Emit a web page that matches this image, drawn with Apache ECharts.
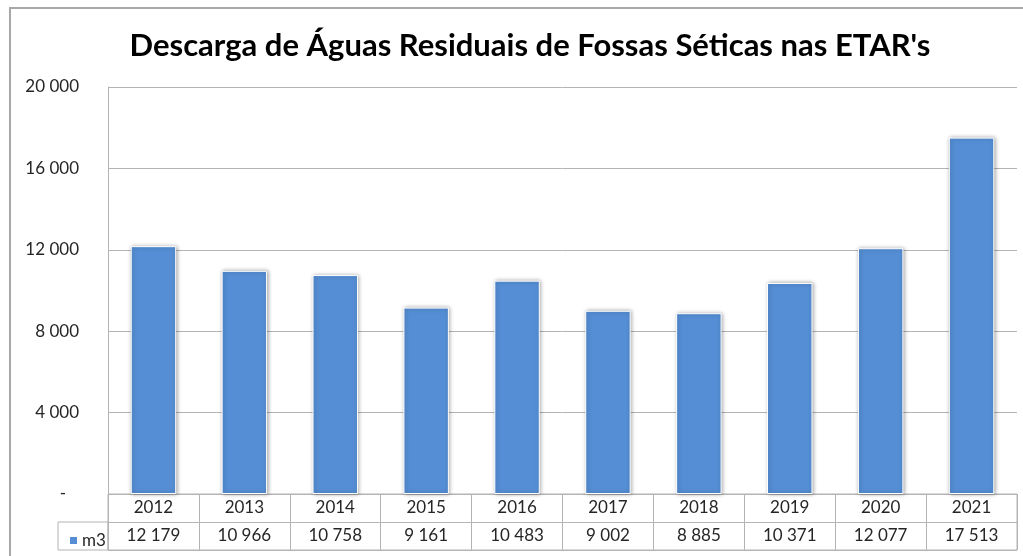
<!DOCTYPE html>
<html>
<head>
<meta charset="utf-8">
<script src="https://cdn.jsdelivr.net/npm/echarts@6/dist/echarts.min.js"></script>
<style>
  html, body { margin: 0; padding: 0; background: #fff; }
  #chart { width: 1023px; height: 556px; }
</style>
</head>
<body>
<div id="chart"></div>
<script>
const years = ['2012', '2013', '2014', '2015', '2016', '2017', '2018', '2019', '2020', '2021']
const m3Values = [12179, 10966, 10758, 9161, 10483, 9002, 8885, 10371, 12077, 17513]
const seriesName = 'm3'

const fontFamily = 'Lato, Carlito, sans-serif'
const textColor = '#262626'
const lineColor = '#b4b4b4'

// thousands with a space, like the excel sheet
function fmt(v) {
  return String(v).replace(/\B(?=(\d{3})+(?!\d))/g, ' ')
}

const chart = echarts.init(document.getElementById('chart'))

chart.setOption({
  animation: false,
  title: {
    text: "Descarga de Águas Residuais de Fossas Séticas nas ETAR's",
    left: 525,
    textAlign: 'center',
    top: 25,
    textStyle: {
      fontFamily: fontFamily,
      fontSize: 31,
      fontWeight: 'bold',
      color: '#000'
    }
  },
  legend: {
    data: [seriesName],
    left: 63,
    top: 527,
    icon: 'rect',
    itemWidth: 9,
    itemHeight: 9,
    textStyle: {
      fontFamily: fontFamily,
      fontSize: 17,
      color: textColor,
      padding: [0, 0, 0, -1]
    }
  },
  graphic: [{
    type: 'rect',
    shape: { x: 10, y: 8, width: 1100, height: 700 },
    style: { fill: null, stroke: '#a8a8a8', lineWidth: 2 },
    silent: true
  }],
  grid: [
    // plot area
    { left: 108, right: 6, top: 87, bottom: 62 },
    // data table (years + values)
    { left: 108, right: 6, top: 494, height: 56, show: true, borderColor: lineColor, borderWidth: 1 },
    // legend cell of the table
    { left: 58, width: 50, top: 522, height: 28, show: true, borderColor: lineColor, borderWidth: 1 }
  ],
  xAxis: [
    { type: 'category', gridIndex: 0, data: years, show: false },
    {
      type: 'category',
      gridIndex: 1,
      position: 'top',
      data: years,
      axisLine: { show: false },
      axisTick: { show: false },
      splitLine: { show: true, lineStyle: { color: lineColor } },
      axisLabel: {
        inside: true,
        margin: 14,
        verticalAlign: 'middle',
        fontFamily: fontFamily,
        fontSize: 17,
        color: textColor
      }
    },
    {
      type: 'category',
      gridIndex: 1,
      position: 'bottom',
      data: m3Values.map(fmt),
      axisLine: { show: false },
      axisTick: { show: false },
      axisLabel: {
        inside: true,
        margin: 14,
        verticalAlign: 'middle',
        fontFamily: fontFamily,
        fontSize: 17,
        color: textColor
      }
    },
    { type: 'value', gridIndex: 2, show: false }
  ],
  yAxis: [
    {
      type: 'value',
      gridIndex: 0,
      min: 0,
      max: 20000,
      interval: 4000,
      axisLine: { show: true, lineStyle: { color: lineColor } },
      axisTick: { show: false },
      splitLine: { lineStyle: { color: lineColor } },
      axisLabel: {
        margin: 29,
        fontFamily: fontFamily,
        fontSize: 17,
        color: textColor,
        formatter: function (v) {
          return v === 0 ? '-   ' : fmt(v)
        }
      }
    },
    {
      type: 'value',
      gridIndex: 1,
      min: 0,
      max: 2,
      interval: 1,
      axisLine: { show: false },
      axisTick: { show: false },
      axisLabel: { show: false },
      splitLine: { show: true, lineStyle: { color: lineColor } }
    },
    { type: 'value', gridIndex: 2, show: false }
  ],
  series: [{
    name: seriesName,
    type: 'bar',
    xAxisIndex: 0,
    yAxisIndex: 0,
    barWidth: '50%',
    data: m3Values,
    itemStyle: {
      color: '#558ed5',
      borderColor: '#ffffff',
      borderWidth: 1,
      shadowColor: 'rgba(0, 0, 0, 0.35)',
      shadowBlur: 4,
      shadowOffsetX: 1,
      shadowOffsetY: 0
    }
  }]
})
</script>
</body>
</html>
